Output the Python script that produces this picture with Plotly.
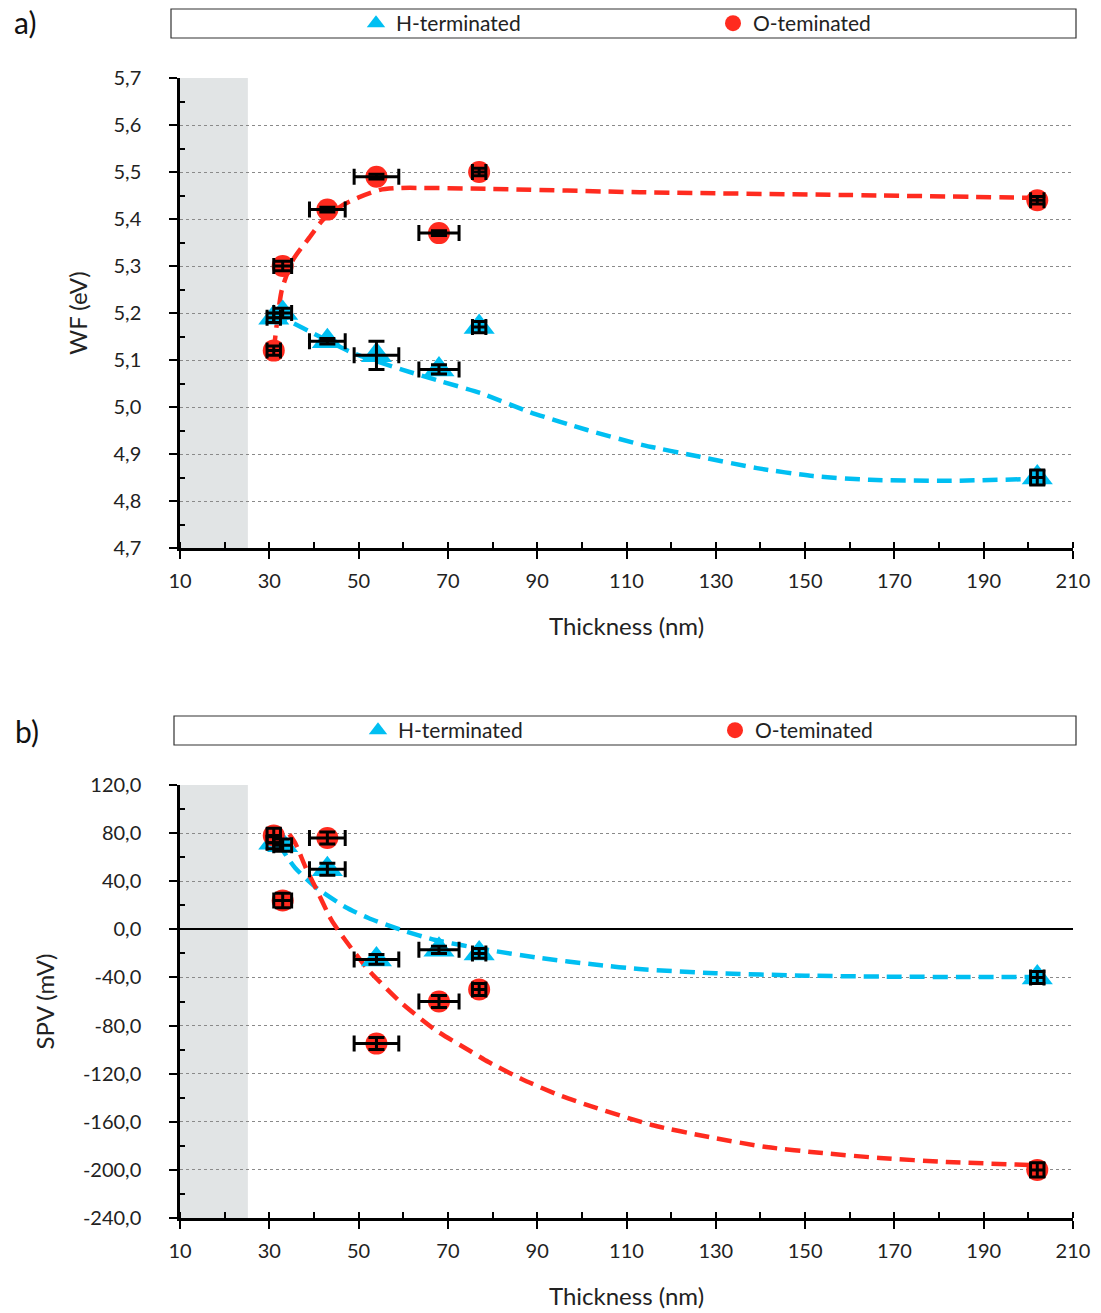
import plotly.graph_objects as go
from plotly.subplots import make_subplots

# ---- data -------------------------------------------------------------
thickness = [31, 33, 43, 54, 68, 77, 202]
thickness_err = [1.5, 2, 4, 5, 4.5, 1.5, 1.5]

wf_h = [5.19, 5.20, 5.14, 5.11, 5.08, 5.17, 4.85]
wf_h_err = [0.01, 0.01, 0.006, 0.03, 0.01, 0.012, 0.016]
wf_o = [5.12, 5.30, 5.42, 5.49, 5.37, 5.50, 5.44]
wf_o_err = [0.01, 0.01, 0.005, 0.005, 0.005, 0.008, 0.008]

spv_h = [72, 70, 50, -25, -17, -20, -40]
spv_h_err = [5, 5, 5, 4, 3, 4, 5]
spv_o = [78, 24, 76, -95, -60, -50, -200]
spv_o_err = [6, 6, 5, 5, 5, 5, 6]

# trend curves
fit_wf_h_x = [31, 35.3, 39.8, 48.7, 59.9, 67.6, 77.2, 88.4, 101.2, 113.7, 126.5, 139.2, 151.8, 164.5, 181.8, 201.5]
fit_wf_h_y = [5.20, 5.179, 5.157, 5.115, 5.079, 5.057, 5.030, 4.989, 4.951, 4.919, 4.894, 4.870, 4.853, 4.845, 4.843, 4.847]
fit_wf_o_x = [31, 32.8, 35.3, 39.1, 42.0, 46.5, 50.3, 54.8, 59.3, 79.4, 113, 160, 201.5]
fit_wf_o_y = [5.12, 5.249, 5.313, 5.362, 5.398, 5.430, 5.447, 5.462, 5.466, 5.464, 5.457, 5.451, 5.445]

fit_spv_h_x = [32, 34.2, 35.8, 40.3, 47.0, 52.2, 59.6, 67.2, 79.1, 90, 103.8, 112.8, 130, 150, 170, 184.6, 201.5]
fit_spv_h_y = [72, 59, 51, 35.2, 18.6, 9.4, -0.6, -8.9, -17.2, -23.5, -29.7, -33.0, -36.5, -38.5, -39.4, -39.6, -39.6]
fit_spv_o_x = [34.5, 35.8, 38.1, 40.3, 43.9, 47.0, 52.2, 59.6, 67.2, 74.6, 79.1, 86.5, 94.8, 103.2, 115.7, 128.5, 141.3, 153.9, 166.7, 181.7, 201.5]
fit_spv_o_y = [79, 71.8, 51.8, 35.2, 7.8, -8.9, -33.8, -61.2, -83.7, -100.3, -110.3, -124.4, -137.7, -148.5, -162.7, -172.7, -181.0, -186.0, -190.1, -193.4, -196]

x_ticks = list(range(10, 211, 20))
x_ticktext = [str(v) for v in x_ticks]
wf_ticks = [4.7, 4.8, 4.9, 5.0, 5.1, 5.2, 5.3, 5.4, 5.5, 5.6, 5.7]
wf_ticktext = ["4,7", "4,8", "4,9", "5,0", "5,1", "5,2", "5,3", "5,4", "5,5", "5,6", "5,7"]
spv_ticks = [-240, -200, -160, -120, -80, -40, 0, 40, 80, 120]
spv_ticktext = ["-240,0", "-200,0", "-160,0", "-120,0", "-80,0", "-40,0", "0,0", "40,0", "80,0", "120,0"]

H_NAME = "H-terminated"
O_NAME = "O-teminated"

# ---- style ------------------------------------------------------------
BLUE = "#00bff2"
RED = "#ff2b1f"
FONT = "Lato"
W, H = 1101, 1313
ML, MR, MT, MB = 180, 28, 78, 95
PW, PH = W - ML - MR, H - MT - MB


def px_x(p):
    return (p - ML) / PW


def px_y(p):
    return (H - MB - p) / PH


top_a, bot_a = px_y(78), px_y(548)
top_b, bot_b = px_y(785), px_y(1218)

fig = make_subplots(rows=2, cols=1, vertical_spacing=0.1)
fig.update_layout(
    yaxis=dict(domain=[bot_a, top_a]),
    yaxis2=dict(domain=[bot_b, top_b]),
)


def add_panel(row, yh, yh_err, yo, yo_err, fxh, fyh, fxo, fyo, legend_name):
    # trend curves
    fig.add_trace(go.Scatter(x=fxh, y=fyh, mode="lines", line=dict(color=BLUE, width=4.5, dash="15px,8px", shape="spline", smoothing=0.6),
                             showlegend=False, hoverinfo="skip"), row=row, col=1)
    fig.add_trace(go.Scatter(x=fxo, y=fyo, mode="lines", line=dict(color=RED, width=4.5, dash="15px,8px", shape="spline", smoothing=0.6),
                             showlegend=False, hoverinfo="skip"), row=row, col=1)
    # markers
    fig.add_trace(go.Scatter(x=thickness, y=yh, mode="markers", name=H_NAME, legend=legend_name,
                             marker=dict(symbol="triangle-up", size=27, color=BLUE)), row=row, col=1)
    fig.add_trace(go.Scatter(x=thickness, y=yo, mode="markers", name=O_NAME, legend=legend_name,
                             marker=dict(symbol="circle", size=22, color=RED)), row=row, col=1)
    # error bars drawn on top of markers
    for ys, es in ((yh, yh_err), (yo, yo_err)):
        fig.add_trace(go.Scatter(x=thickness, y=ys, mode="markers", marker=dict(size=1, opacity=0),
                                 error_x=dict(type="data", array=thickness_err, color="black", thickness=3, width=8),
                                 error_y=dict(type="data", array=es, color="black", thickness=3, width=8),
                                 showlegend=False, hoverinfo="skip"), row=row, col=1)


add_panel(1, wf_h, wf_h_err, wf_o, wf_o_err, fit_wf_h_x, fit_wf_h_y, fit_wf_o_x, fit_wf_o_y, "legend")
add_panel(2, spv_h, spv_h_err, spv_o, spv_o_err, fit_spv_h_x, fit_spv_h_y, fit_spv_o_x, fit_spv_o_y, "legend2")

tick_font = dict(family=FONT, size=20, color="#222")
title_font = dict(family=FONT, size=24, color="#222")

xcommon = dict(range=[10, 210], tickvals=x_ticks, ticktext=x_ticktext, showline=True, linecolor="black", linewidth=2.5,
               ticks="outside", ticklen=8, tickwidth=1.5, tickcolor="black", showgrid=False, zeroline=False,
               minor=dict(dtick=10, tick0=10, ticks="inside", ticklen=6, tickwidth=1.5, tickcolor="black"),
               tickfont=tick_font, ticklabelstandoff=5,
               title=dict(text="Thickness (nm)", font=title_font, standoff=28))
fig.update_xaxes(**xcommon)

ycommon = dict(showline=True, linecolor="black", linewidth=2.5, ticks="outside", ticklen=8, tickwidth=1.5, tickcolor="black",
               showgrid=True, gridcolor="#8a8a8a", griddash="dot", gridwidth=1, tickfont=tick_font, ticklabelstandoff=24)
fig.update_yaxes(**ycommon)
fig.update_yaxes(range=[4.7, 5.7], tickvals=wf_ticks, ticktext=wf_ticktext, zeroline=False,
                 minor=dict(tickvals=[v + 0.05 for v in wf_ticks[:-1]], ticks="inside", ticklen=5, tickwidth=1.5, tickcolor="black"),
                 title=dict(text="WF (eV)", font=title_font, standoff=20), row=1, col=1)
fig.update_yaxes(range=[-240, 120], tickvals=spv_ticks, ticktext=spv_ticktext, zeroline=True, zerolinecolor="black", zerolinewidth=1.5,
                 minor=dict(tickvals=[v + 20 for v in spv_ticks[:-1]], ticks="inside", ticklen=5, tickwidth=1.5, tickcolor="black"),
                 title=dict(text="SPV (mV)", font=title_font, standoff=22), row=2, col=1)

# shaded thickness range and legend frames
for yref in ("y domain", "y2 domain"):
    xref = "x" if yref == "y domain" else "x2"
    fig.add_shape(type="rect", xref=xref, yref=yref, x0=10, x1=25.2, y0=0, y1=1, fillcolor="#e1e4e5", line_width=0, layer="below")

fig.add_shape(type="rect", xref="paper", yref="paper", x0=px_x(171), x1=px_x(1076), y0=px_y(38), y1=px_y(9),
              line=dict(color="#333", width=1.2), fillcolor="rgba(0,0,0,0)")
fig.add_shape(type="rect", xref="paper", yref="paper", x0=px_x(174), x1=px_x(1076), y0=px_y(745), y1=px_y(716),
              line=dict(color="#333", width=1.2), fillcolor="rgba(0,0,0,0)")

legend_common = dict(orientation="h", xanchor="left", yanchor="middle", bgcolor="rgba(0,0,0,0)", borderwidth=0,
                     font=dict(family=FONT, size=21, color="#222"), entrywidth=312)
fig.update_layout(
    legend=dict(x=px_x(356), y=px_y(23.5), **legend_common),
    legend2=dict(x=px_x(358), y=px_y(730.5), **legend_common),
)

fig.add_annotation(text="a)", xref="paper", yref="paper", x=px_x(25), y=px_y(22), showarrow=False,
                   font=dict(family=FONT, size=30, color="#111"), xanchor="center", yanchor="middle")
fig.add_annotation(text="b)", xref="paper", yref="paper", x=px_x(27), y=px_y(731), showarrow=False,
                   font=dict(family=FONT, size=30, color="#111"), xanchor="center", yanchor="middle")

fig.update_layout(width=W, height=H, margin=dict(l=ML, r=MR, t=MT, b=MB, autoexpand=False),
                  plot_bgcolor="white", paper_bgcolor="white", font=dict(family=FONT))

fig.write_html("out.html")
